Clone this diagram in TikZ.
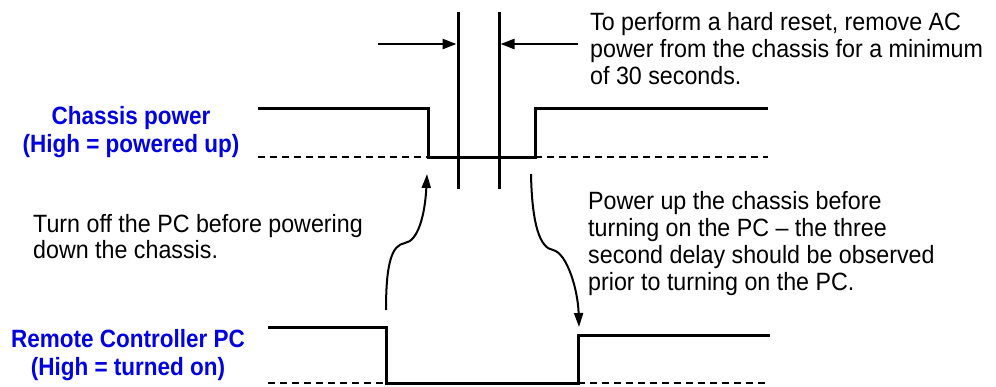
\documentclass[tikz,border=0pt]{standalone}
\usepackage{fontspec}
\setmainfont{Liberation Sans}[FakeStretch=0.93]
\newfontfamily\labfont{Liberation Sans}[FakeStretch=0.9]
\usetikzlibrary{arrows.meta}
\definecolor{labblue}{RGB}{0,0,224}
\begin{document}
\begin{tikzpicture}[x=1pt,y=-1pt,
  sig/.style={line width=3pt, line join=miter},
  baseline dash/.style={line width=1.5pt, dash pattern=on 7pt off 5pt},
  markline/.style={line width=3pt},
  dimarrow/.style={line width=2.5pt,-{Triangle[length=14pt,width=10pt]}},
  curvearrow/.style={line width=2pt,-{Triangle[length=14pt,width=9pt]}},
  note/.style={font=\fontsize{25}{26.7}\selectfont, align=left, inner sep=0pt, anchor=base west},
  siglabel/.style={font=\labfont\bfseries\fontsize{25}{28}\selectfont, text=labblue, align=center, inner sep=0pt, anchor=base}]
\useasboundingbox (0,0) rectangle (996,386);

% chassis power signal
\coordinate (c0) at (258,108);
\coordinate (c1) at (428,108);
\coordinate (c2) at (428,157);
\coordinate (c3) at (535,157);
\coordinate (c4) at (535,108);
\coordinate (c5) at (768,108);
\coordinate (cb0) at (258,157);
\coordinate (cb1) at (768,157);
\draw[sig] (c0) -- (c1) -- (c2) -- (c3) -- (c4) -- (c5);
\draw[baseline dash] (cb0) -- (c2);
\draw[baseline dash] (c3) -- (cb1);

% PC signal
\coordinate (p0) at (268,327);
\coordinate (p1) at (386,327);
\coordinate (p2) at (386,383);
\coordinate (p3) at (578,383);
\coordinate (p4) at (578,335);
\coordinate (p5) at (770,335);
\coordinate (pb0) at (268,383);
\coordinate (pb1) at (768,383);
\draw[sig] (p0) -- (p1) -- (p2) -- (p3) -- (p4) -- (p5);
\draw[baseline dash] (pb0) -- (p2);
\draw[baseline dash] (p3) -- (pb1);

% 30 s markers
\coordinate (v1t) at (458,12);
\coordinate (v1b) at (458,189);
\coordinate (v2t) at (499,12);
\coordinate (v2b) at (499,189);
\draw[markline] (v1t) -- (v1b);
\draw[markline] (v2t) -- (v2b);
\coordinate (a1s) at (378,44);
\coordinate (a1e) at (456.5,44);
\coordinate (a2s) at (578,44);
\coordinate (a2e) at (500.5,44);
\draw[dimarrow] (a1s) -- (a1e);
\draw[dimarrow] (a2s) -- (a2e);

% curved arrows
\coordinate (u0) at (386,310);
\coordinate (u1) at (405,243);
\coordinate (u2) at (427,174);
\draw[curvearrow] (u0) .. controls (386,262) and (392,245) .. (u1)
  .. controls (418,241) and (425,215) .. (u2);
\coordinate (d0) at (531,174);
\coordinate (d1) at (553,250);
\coordinate (d2) at (579,327);
\draw[curvearrow] (d0) .. controls (532,225) and (540,248) .. (d1)
  .. controls (567,253) and (578,290) .. (d2);

% labels (anchor = baseline of last line)
\node[siglabel] (lchassis) at (131,152) {Chassis power\\(High = powered up)};
\node[siglabel] (lpc) at (128,375) {Remote Controller PC\\(High = turned on)};

% notes (anchor = baseline of last line)
\node[note] (nreset) at (590,84) {To perform a hard reset, remove AC\\power from the chassis for a minimum\\of 30 seconds.};
\node[note] (noff) at (33,258.7) {Turn off the PC before powering\\down the chassis.};
\node[note] (non) at (588,290) {Power up the chassis before\\turning on the PC -- the three\\second delay should be observed\\prior to turning on the PC.};
\end{tikzpicture}
\end{document}
